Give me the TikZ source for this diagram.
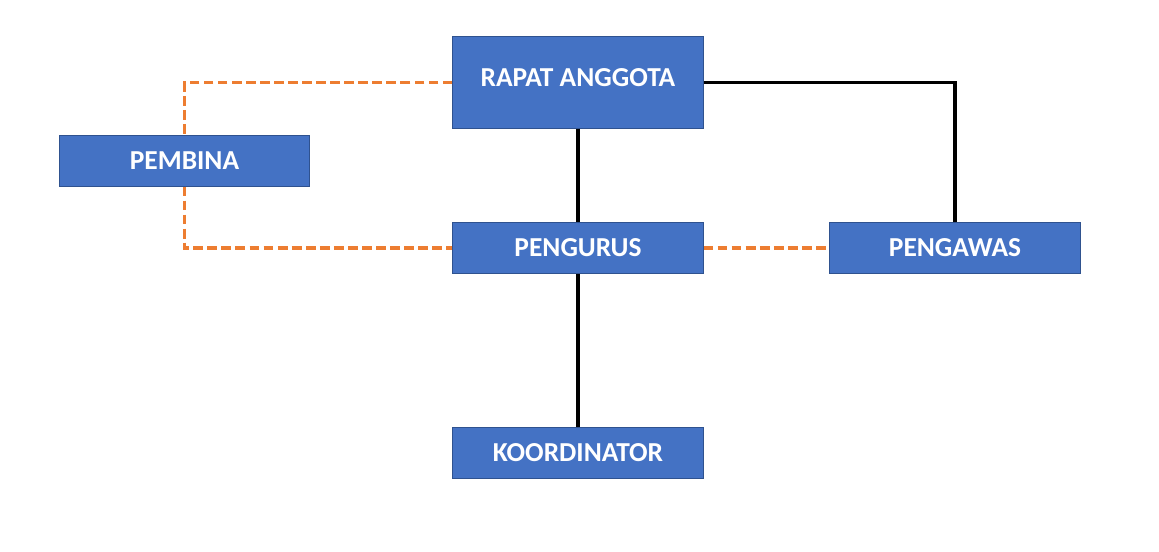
\documentclass[tikz,border=0pt]{standalone}
\usepackage{fontspec}
\setmainfont{Carlito}
\usepackage{tikz}

\definecolor{boxblue}{HTML}{4472C4}
\definecolor{boxedge}{HTML}{2F528F}
\definecolor{linkorange}{HTML}{ED7D31}

\begin{document}
\begin{tikzpicture}[x=0.025cm,y=-0.025cm,
	unit/.style={draw=boxedge,line width=0.7pt,fill=boxblue,text=white,
		font=\fontsize{19.5}{24}\selectfont\bfseries,
		minimum width=6.25cm,minimum height=1.275cm,inner sep=0pt},
	line/.style={line width=2.6pt,black},
	dotline/.style={line width=2.6pt,linkorange,dash pattern=on 7pt off 3pt}]

	\useasboundingbox (0,0) rectangle (1159,552);

	\node[unit,minimum height=2.275cm] (rapat) at (578,82.5) {\raisebox{0.25cm}{RAPAT ANGGOTA}};
	\node[unit] (pembina) at (184.5,160.5) {PEMBINA};
	\node[unit] (pengurus) at (578,248) {PENGURUS};
	\node[unit] (pengawas) at (955,248) {PENGAWAS};
	\node[unit] (koordinator) at (578,452.5) {KOORDINATOR};

	\draw[line] (rapat.south) -- (pengurus.north);
	\draw[line] (pengurus.south) -- (koordinator.north);
	\draw[line] (rapat.east) -| (pengawas.north);

	\draw[dotline] (rapat.west) -| (pembina.north);
	\draw[dotline] (pembina.south) |- (pengurus.west);
	\draw[dotline] (pengurus.east) -- (pengawas.west);
\end{tikzpicture}
\end{document}
